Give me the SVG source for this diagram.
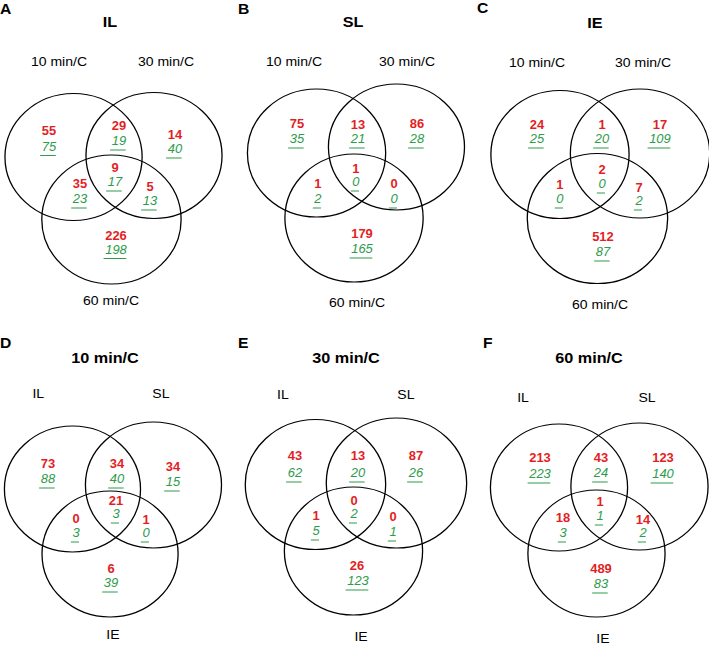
<svg xmlns="http://www.w3.org/2000/svg" width="709" height="647" viewBox="0 0 709 647">
<style>
.c{fill:none;stroke:#000;stroke-width:1.2}
.r{font-family:"Liberation Sans",Arial,sans-serif;font-weight:bold;font-size:12px;fill:#e31e24;text-anchor:middle}
.g{font-family:"Liberation Sans",Arial,sans-serif;font-style:italic;font-size:12px;fill:#2e9b4b;text-anchor:middle}
.u{stroke:#2e9b4b;stroke-width:1}
.l{font-family:"Liberation Sans",Arial,sans-serif;font-size:13px;fill:#000;text-anchor:middle}
.t{font-family:"Liberation Sans",Arial,sans-serif;font-weight:bold;font-size:15px;fill:#000;text-anchor:middle}
.p{font-family:"Liberation Sans",Arial,sans-serif;font-weight:bold;font-size:14.5px;fill:#000}
</style>
<rect width="709" height="647" fill="#fff"/>
<g transform="scale(1.08,1)">
<g id="panelA">
<text class="p" x="0" y="14">A</text>
<text class="t" x="101.9" y="27">IL</text>
<text class="l" x="54.6" y="66.5">10 min/C</text>
<text class="l" x="153.7" y="66.5">30 min/C</text>
<text class="l" x="102.8" y="305">60 min/C</text>
<circle class="c" cx="68.1" cy="157" r="63.5"/>
<circle class="c" cx="142.6" cy="155.5" r="63"/>
<circle class="c" cx="103.2" cy="219.5" r="64.5"/>
<text class="r" x="45.4" y="135">55</text><text class="g" x="45.4" y="151">75</text><line class="u" x1="37.2" y1="155.5" x2="51.6" y2="155.5"/>
<text class="r" x="110.2" y="130">29</text><text class="g" x="110.2" y="145">19</text><line class="u" x1="101.9" y1="150" x2="116.4" y2="150"/>
<text class="r" x="162" y="139">14</text><text class="g" x="162" y="153">40</text><line class="u" x1="153.8" y1="158" x2="168.2" y2="158"/>
<text class="r" x="106.5" y="172">9</text><text class="g" x="106.5" y="186">17</text><line class="u" x1="98.3" y1="191" x2="112.7" y2="191"/>
<text class="r" x="74.1" y="188">35</text><text class="g" x="74.1" y="203">23</text><line class="u" x1="65.9" y1="208" x2="80.3" y2="208"/>
<text class="r" x="138.9" y="191">5</text><text class="g" x="138.9" y="205">13</text><line class="u" x1="130.7" y1="210" x2="145.1" y2="210"/>
<text class="r" x="107.4" y="240">226</text><text class="g" x="107.4" y="254">198</text><line class="u" x1="95.9" y1="258.5" x2="116.9" y2="258.5"/>
</g>
<g id="panelB">
<text class="p" x="220.4" y="14">B</text>
<text class="t" x="326.9" y="27">SL</text>
<text class="l" x="272.2" y="66.5">10 min/C</text>
<text class="l" x="376.9" y="66.5">30 min/C</text>
<text class="l" x="330.6" y="307">60 min/C</text>
<circle class="c" cx="293.1" cy="153" r="64"/>
<circle class="c" cx="367.1" cy="147" r="63"/>
<circle class="c" cx="327.8" cy="218" r="64"/>
<text class="r" x="275" y="128">75</text><text class="g" x="275" y="143">35</text><line class="u" x1="266.8" y1="148" x2="281.2" y2="148"/>
<text class="r" x="331.5" y="129">13</text><text class="g" x="331.5" y="143">21</text><line class="u" x1="323.3" y1="148" x2="337.7" y2="148"/>
<text class="r" x="386.1" y="128">86</text><text class="g" x="386.1" y="143">28</text><line class="u" x1="377.9" y1="148" x2="392.3" y2="148"/>
<text class="r" x="329.6" y="173">1</text><text class="g" x="329.6" y="186">0</text><line class="u" x1="324.8" y1="191" x2="332.4" y2="191"/>
<text class="r" x="294.4" y="188">1</text><text class="g" x="294.4" y="203">2</text><line class="u" x1="289.6" y1="208" x2="297.2" y2="208"/>
<text class="r" x="364.8" y="188">0</text><text class="g" x="364.8" y="203">0</text><line class="u" x1="360" y1="208" x2="367.6" y2="208"/>
<text class="r" x="335.2" y="238">179</text><text class="g" x="335.2" y="253">165</text><line class="u" x1="323.7" y1="258" x2="344.7" y2="258"/>
</g>
<g id="panelC">
<text class="p" x="441.7" y="13">C</text>
<text class="t" x="550.9" y="28">IE</text>
<text class="l" x="497.2" y="67">10 min/C</text>
<text class="l" x="595.4" y="67">30 min/C</text>
<text class="l" x="555.6" y="309">60 min/C</text>
<circle class="c" cx="518.5" cy="154.5" r="64"/>
<circle class="c" cx="592.6" cy="153.5" r="64.5"/>
<circle class="c" cx="553.2" cy="218.5" r="65"/>
<text class="r" x="497.2" y="129">24</text><text class="g" x="497.2" y="143">25</text><line class="u" x1="489" y1="148" x2="503.4" y2="148"/>
<text class="r" x="557.4" y="129">1</text><text class="g" x="557.4" y="143">20</text><line class="u" x1="549.2" y1="148" x2="563.6" y2="148"/>
<text class="r" x="611.1" y="129">17</text><text class="g" x="611.1" y="143">109</text><line class="u" x1="599.6" y1="148" x2="620.6" y2="148"/>
<text class="r" x="557.4" y="174">2</text><text class="g" x="557.4" y="188">0</text><line class="u" x1="552.6" y1="193" x2="560.2" y2="193"/>
<text class="r" x="518.5" y="189">1</text><text class="g" x="518.5" y="203">0</text><line class="u" x1="513.7" y1="208" x2="521.3" y2="208"/>
<text class="r" x="591.7" y="192">7</text><text class="g" x="591.7" y="205">2</text><line class="u" x1="586.9" y1="210" x2="594.5" y2="210"/>
<text class="r" x="558.3" y="241">512</text><text class="g" x="558.3" y="256">87</text><line class="u" x1="550.1" y1="261" x2="564.5" y2="261"/>
</g>
<g id="panelD">
<text class="p" x="0" y="348">D</text>
<text class="t" x="97.2" y="363">10 min/C</text>
<text class="l" x="35.5" y="398">IL</text>
<text class="l" x="149" y="398">SL</text>
<text class="l" x="104.6" y="639">IE</text>
<circle class="c" cx="67.1" cy="489" r="63"/>
<circle class="c" cx="142.1" cy="485" r="63"/>
<circle class="c" cx="101.9" cy="554" r="63"/>
<text class="r" x="44.4" y="468">73</text><text class="g" x="44.4" y="483">88</text><line class="u" x1="36.2" y1="488" x2="50.6" y2="488"/>
<text class="r" x="108.3" y="468">34</text><text class="g" x="108.3" y="483">40</text><line class="u" x1="100.1" y1="488" x2="114.5" y2="488"/>
<text class="r" x="160.2" y="471">34</text><text class="g" x="160.2" y="486">15</text><line class="u" x1="152" y1="491" x2="166.4" y2="491"/>
<text class="r" x="107.4" y="505">21</text><text class="g" x="107.4" y="518">3</text><line class="u" x1="102.6" y1="523" x2="110.2" y2="523"/>
<text class="r" x="70.4" y="523">0</text><text class="g" x="70.4" y="537">3</text><line class="u" x1="65.6" y1="542" x2="73.2" y2="542"/>
<text class="r" x="135.2" y="524">1</text><text class="g" x="135.2" y="537">0</text><line class="u" x1="130.4" y1="542" x2="138" y2="542"/>
<text class="r" x="102.8" y="573">6</text><text class="g" x="102.8" y="587">39</text><line class="u" x1="94.6" y1="592" x2="109" y2="592"/>
</g>
<g id="panelE">
<text class="p" x="220.4" y="348">E</text>
<text class="t" x="320.4" y="363">30 min/C</text>
<text class="l" x="262" y="399">IL</text>
<text class="l" x="375.9" y="399">SL</text>
<text class="l" x="334.3" y="641">IE</text>
<circle class="c" cx="292.1" cy="484.5" r="65"/>
<circle class="c" cx="367.1" cy="483" r="65"/>
<circle class="c" cx="327.3" cy="551" r="64"/>
<text class="r" x="273.1" y="460">43</text><text class="g" x="273.1" y="477">62</text><line class="u" x1="264.9" y1="482" x2="279.3" y2="482"/>
<text class="r" x="331.5" y="460">13</text><text class="g" x="331.5" y="477">20</text><line class="u" x1="323.3" y1="482" x2="337.7" y2="482"/>
<text class="r" x="385.2" y="460">87</text><text class="g" x="385.2" y="477">26</text><line class="u" x1="377" y1="482" x2="391.4" y2="482"/>
<text class="r" x="327.8" y="505">0</text><text class="g" x="327.8" y="518">2</text><line class="u" x1="323" y1="523" x2="330.6" y2="523"/>
<text class="r" x="292.6" y="520">1</text><text class="g" x="292.6" y="535">5</text><line class="u" x1="287.8" y1="540" x2="295.4" y2="540"/>
<text class="r" x="363.9" y="521">0</text><text class="g" x="363.9" y="536">1</text><line class="u" x1="359.1" y1="541" x2="366.7" y2="541"/>
<text class="r" x="330.6" y="570">26</text><text class="g" x="331.5" y="585">123</text><line class="u" x1="320" y1="590" x2="341" y2="590"/>
</g>
<g id="panelF">
<text class="p" x="447.2" y="348">F</text>
<text class="t" x="545.4" y="363">60 min/C</text>
<text class="l" x="484.3" y="402">IL</text>
<text class="l" x="599.1" y="402">SL</text>
<text class="l" x="558.3" y="643">IE</text>
<circle class="c" cx="517.6" cy="487.5" r="63.5"/>
<circle class="c" cx="592.1" cy="486.5" r="63.5"/>
<circle class="c" cx="552.3" cy="553.5" r="63.5"/>
<text class="r" x="500" y="462">213</text><text class="g" x="500" y="478">223</text><line class="u" x1="488.5" y1="483" x2="509.5" y2="483"/>
<text class="r" x="556.5" y="462">43</text><text class="g" x="556.5" y="477">24</text><line class="u" x1="548.3" y1="482" x2="562.7" y2="482"/>
<text class="r" x="613.9" y="462">123</text><text class="g" x="613.9" y="478">140</text><line class="u" x1="602.4" y1="483" x2="623.4" y2="483"/>
<text class="r" x="555.6" y="506">1</text><text class="g" x="555.6" y="520">1</text><line class="u" x1="550.8" y1="525" x2="558.4" y2="525"/>
<text class="r" x="521.3" y="522">18</text><text class="g" x="521.3" y="537">3</text><line class="u" x1="516.5" y1="542" x2="524.1" y2="542"/>
<text class="r" x="595.4" y="524">14</text><text class="g" x="595.4" y="537">2</text><line class="u" x1="590.6" y1="542" x2="598.2" y2="542"/>
<text class="r" x="556.5" y="573">489</text><text class="g" x="556.5" y="588">83</text><line class="u" x1="548.3" y1="593" x2="562.7" y2="593"/>
</g>
</g>
</svg>
